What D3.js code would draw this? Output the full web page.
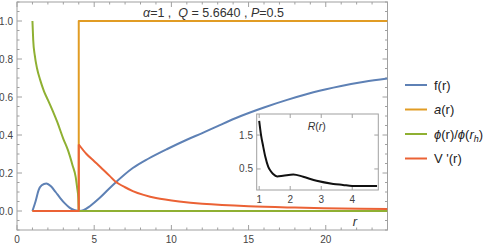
<!DOCTYPE html>
<html><head><meta charset="utf-8">
<script src="https://cdn.jsdelivr.net/npm/d3@7"></script>
<style>body{margin:0;background:#fff}svg{display:block}text{font-family:"Liberation Sans",Arial,sans-serif;white-space:pre}</style>
</head><body>
<svg id="c" width="491" height="244"></svg>
<script>
// ---- data ----
const fHeadR = [1,1.2,1.4,1.6,1.9,2.2,2.5,2.8,3.1,3.4,3.7,4.0];
const fHeadV = [0,0.05,0.11,0.135,0.145,0.13,0.1,0.068,0.04,0.018,0.005,0];
const fR = [4.0,4.3,4.7,5.4,6.25,7.5,8.5,9.7,11,12,13,14.5,16,17.5,19.2,21,22.5,24];
const fV = [0,0.004,0.024,0.072,0.14,0.226,0.275,0.325,0.375,0.41,0.447,0.5,0.545,0.585,0.625,0.658,0.68,0.697];
const aR = [1,4,4,24];
const aV = [0,0,1,1];
const phiR = [1,1.05,1.15,1.3,1.5,1.75,2.0,2.3,2.6,3.0,3.3,3.6,3.8,3.9,3.97,4.0];
const phiV = [1.0,0.9,0.82,0.75,0.69,0.63,0.585,0.53,0.47,0.38,0.32,0.24,0.18,0.12,0.07,0.0];
const phiTailR = [4,24];
const phiTailV = [0,0];
const vR = [4,4.5,5,5.4,6,6.35,7,7.5,8.2,9,10.5,12,15,18,21,24];
const vV = [0.35,0.3,0.262,0.232,0.185,0.157,0.125,0.105,0.085,0.068,0.05,0.038,0.025,0.018,0.013,0.01];
const vHeadR = [1,4,4];
const vHeadV = [0,0,0.35];
const insetR = [1,1.06,1.13,1.2,1.29,1.37,1.45,1.58,1.77,2.1,2.42,2.85,3.39,3.7,4.0,4.8];
const insetV = [1.92,1.5,1.16,0.85,0.57,0.44,0.35,0.28,0.3,0.34,0.27,0.15,0.06,0.03,0,0];
const xTicks = [0,5,10,15,20];
const yTicks = [0,0.2,0.4,0.6,0.8,1.0];
const insetXTicks = [1,2,3,4];
const insetYTicks = [0.5,1.5];
const colors = {f:"#5E81B5", a:"#E19C24", phi:"#8FB032", v:"#EB6235"};

const svg = d3.select("#c");
const frameCol = "#a0a0a0", tickTextCol = "#444";
const x = d3.scaleLinear().domain([0,24]).range([17,387.5]);
const y = d3.scaleLinear().domain([-0.1,1.1]).range([230,2]);

function frameTicks(g, xs, ys, xMaj, xMin, yMaj, yMin, majL, minL){
  const [x0,x1] = xs.range(), [y0,y1] = ys.range();
  g.append("rect").attr("x",x0).attr("y",y1).attr("width",x1-x0).attr("height",y0-y1)
   .attr("fill","none").attr("stroke",frameCol).attr("stroke-width",1);
  const tk = (arr,len)=>arr.forEach(v=>{
    const px = xs(v);
    g.append("line").attr("x1",px).attr("x2",px).attr("y1",y0).attr("y2",y0-len).attr("stroke",frameCol);
    g.append("line").attr("x1",px).attr("x2",px).attr("y1",y1).attr("y2",y1+len).attr("stroke",frameCol);
  });
  const tky = (arr,len)=>arr.forEach(v=>{
    const py = ys(v);
    g.append("line").attr("y1",py).attr("y2",py).attr("x1",x0).attr("x2",x0+len).attr("stroke",frameCol);
    g.append("line").attr("y1",py).attr("y2",py).attr("x1",x1).attr("x2",x1-len).attr("stroke",frameCol);
  });
  tk(xMaj,majL); tk(xMin,minL); tky(yMaj,majL); tky(yMin,minL);
}

const main = svg.append("g");
const xMin = d3.range(0,25,1).filter(v=>v%5!==0);
const yMin = d3.range(-0.1,1.1001,0.05).map(v=>+v.toFixed(2)).filter(v=>Math.abs((v*5)-Math.round(v*5))>1e-6);
frameTicks(main, x, y, xTicks, xMin, yTicks, yMin, 5, 2.5);

main.selectAll(".xl").data(xTicks).enter().append("text")
  .attr("x",d=>x(d)).attr("y",242.5).attr("text-anchor","middle").attr("font-size",10).attr("fill",tickTextCol).text(d=>d);
main.selectAll(".yl").data(yTicks).enter().append("text")
  .attr("x",13).attr("y",d=>y(d)+3.5).attr("text-anchor","end").attr("font-size",10).attr("fill",tickTextCol).text(d=>d.toFixed(1));

svg.append("defs").append("clipPath").attr("id","pc").append("rect")
  .attr("x",17).attr("y",2).attr("width",370.5).attr("height",228);
const plot = svg.append("g").attr("clip-path","url(#pc)");

function draw(g, xs, ys, R, V, col, curve, w){
  const line = d3.line().x((d,i)=>xs(R[i])).y((d,i)=>ys(V[i])).curve(curve);
  g.append("path").attr("d",line(R)).attr("fill","none").attr("stroke",col)
   .attr("stroke-width",w||2).attr("stroke-linejoin","round");
}
const smooth = d3.curveCatmullRom.alpha(0.5);
draw(plot,x,y,fHeadR,fHeadV,colors.f,d3.curveMonotoneX);
draw(plot,x,y,fR,fV,colors.f,smooth);
draw(plot,x,y,aR,aV,colors.a,d3.curveLinear);
draw(plot,x,y,phiR,phiV,colors.phi,d3.curveMonotoneX);
draw(plot,x,y,phiTailR,phiTailV,colors.phi,d3.curveLinear);
draw(plot,x,y,vHeadR,vHeadV,colors.v,d3.curveLinear);
draw(plot,x,y,vR,vV,colors.v,smooth);

// title
const t = svg.append("text").attr("x",143).attr("y",16.5).attr("font-size",12.5).attr("fill","#333");
t.append("tspan").attr("font-style","italic").text("α");
t.append("tspan").text("=1 ,  ");
t.append("tspan").attr("font-style","italic").text("Q");
t.append("tspan").text(" = 5.6640 , ");
t.append("tspan").attr("font-style","italic").text("P");
t.append("tspan").text("=0.5");

svg.append("text").attr("x",355).attr("y",226).attr("font-size",13).attr("font-style","italic").attr("fill","#333").attr("text-anchor","middle").text("r");

// inset
const ix = d3.scaleLinear().domain([0.92,4.84]).range([256.7,378.3]);
const iy = d3.scaleLinear().domain([-0.12,2.12]).range([190,114]);
const ins = svg.append("g");
ins.append("rect").attr("x",256.7).attr("y",114).attr("width",121.6).attr("height",76).attr("fill","#fff");
frameTicks(ins, ix, iy, insetXTicks, [], insetYTicks, [], 4, 2);
ins.selectAll(".ixl").data(insetXTicks).enter().append("text")
  .attr("x",d=>ix(d)).attr("y",203).attr("text-anchor","middle").attr("font-size",10).attr("fill",tickTextCol).text(d=>d);
ins.selectAll(".iyl").data(insetYTicks).enter().append("text")
  .attr("x",253).attr("y",d=>iy(d)+3.5).attr("text-anchor","end").attr("font-size",10).attr("fill",tickTextCol).text(d=>d);
draw(ins,ix,iy,insetR,insetV,"#111",d3.curveMonotoneX,2);
const rt = ins.append("text").attr("x",316.7).attr("y",130).attr("text-anchor","middle").attr("font-size",10.5).attr("fill","#333");
rt.append("tspan").attr("font-style","italic").text("R");
rt.append("tspan").text("(");
rt.append("tspan").attr("font-style","italic").text("r");
rt.append("tspan").text(")");

// legend
const leg = [
  {c:colors.f, parts:[["f(r)",""]]},
  {c:colors.a, parts:[["a","i"],["(r)",""]]},
  {c:colors.phi, parts:[["ϕ","i"],["(r)/",""],["ϕ","i"],["(",""],["r","i"],["h","sub"],[")",""]]},
  {c:colors.v, parts:[["V '(r)",""]]}
];
leg.forEach((L,i)=>{
  const yy = 85 + i*24.5;
  svg.append("line").attr("x1",405).attr("x2",427).attr("y1",yy).attr("y2",yy).attr("stroke",L.c).attr("stroke-width",2);
  const tx = svg.append("text").attr("x",434).attr("y",yy+4.5).attr("font-size",13).attr("fill","#222");
  L.parts.forEach(p=>{
    const s = tx.append("tspan").text(p[0]);
    if(p[1]==="i") s.attr("font-style","italic");
    if(p[1]==="sub"){ s.attr("font-size",9).attr("font-style","italic").attr("dy",3); }
    if(i===2 && p[0]===")") s.attr("dy",-3);
  });
});
</script>
</body></html>
